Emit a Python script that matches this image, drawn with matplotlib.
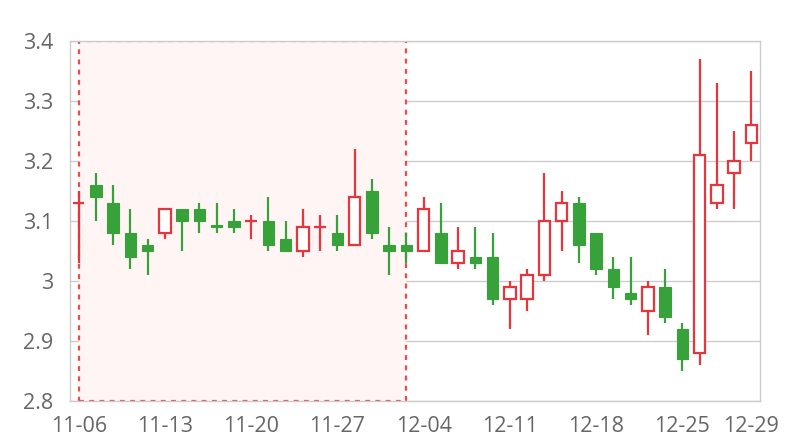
import matplotlib
matplotlib.use("Agg")
import matplotlib.pyplot as plt
from matplotlib.patches import Rectangle

# trading days (category axis)
dates = ["11-06", "11-07", "11-08", "11-09", "11-10",
         "11-13", "11-14", "11-15", "11-16", "11-17",
         "11-20", "11-21", "11-22", "11-23", "11-24",
         "11-27", "11-28", "11-29", "11-30", "12-01",
         "12-04", "12-05", "12-06", "12-07", "12-08",
         "12-11", "12-12", "12-13", "12-14", "12-15",
         "12-18", "12-19", "12-20", "12-21", "12-22",
         "12-25", "12-26", "12-27", "12-28", "12-29"]

opens = [3.13, 3.16, 3.13, 3.08, 3.06, 3.08, 3.12, 3.12, 3.093, 3.10,
         3.10, 3.10, 3.07, 3.05, 3.09, 3.08, 3.06, 3.15, 3.06, 3.06,
         3.05, 3.08, 3.03, 3.04, 3.04, 2.97, 2.97, 3.01, 3.10, 3.13,
         3.08, 3.02, 2.98, 2.95, 2.99, 2.92, 2.88, 3.13, 3.18, 3.23]
closes = [3.13, 3.14, 3.08, 3.04, 3.05, 3.12, 3.10, 3.10, 3.090, 3.09,
          3.10, 3.06, 3.05, 3.09, 3.09, 3.06, 3.14, 3.08, 3.05, 3.05,
          3.12, 3.03, 3.05, 3.03, 2.97, 2.99, 3.01, 3.10, 3.13, 3.06,
          3.02, 2.99, 2.97, 2.99, 2.94, 2.87, 3.21, 3.16, 3.20, 3.26]
highs = [3.15, 3.18, 3.16, 3.12, 3.07, 3.12, 3.12, 3.13, 3.13, 3.12,
         3.11, 3.14, 3.10, 3.12, 3.11, 3.11, 3.22, 3.17, 3.09, 3.08,
         3.14, 3.13, 3.09, 3.09, 3.08, 3.00, 3.02, 3.18, 3.15, 3.14,
         3.08, 3.04, 3.04, 3.00, 3.02, 2.93, 3.37, 3.33, 3.25, 3.35]
lows = [3.03, 3.10, 3.06, 3.02, 3.01, 3.07, 3.05, 3.08, 3.08, 3.08,
        3.07, 3.05, 3.05, 3.04, 3.05, 3.05, 3.06, 3.07, 3.01, 3.03,
        3.05, 3.03, 3.02, 3.02, 2.96, 2.92, 2.95, 3.00, 3.05, 3.03,
        3.01, 2.97, 2.96, 2.91, 2.93, 2.85, 2.86, 3.12, 3.12, 3.20]

label_idx = [0, 5, 10, 15, 20, 25, 30, 35, 39]
highlight = (0, 19)  # first and last index of the marked range

up_color = "#e8343b"
down_color = "#37a13a"
grid_color = "#cccccc"
text_color = "#666666"

plt.rcParams["font.family"] = ["Open Sans", "DejaVu Sans"]

fig = plt.figure(figsize=(8, 4.4), dpi=100)
ax = fig.add_axes([0.0875, 0.0886, 0.8625, 0.8182])

w = 0.68
for i in range(len(dates)):
    o, c, h, l = opens[i], closes[i], highs[i], lows[i]
    # equal open/close counts as a rising candle
    rising = c >= o
    col = up_color if rising else down_color
    ax.vlines(i, l, h, color=col, lw=1.6, zorder=2)
    bottom = min(o, c)
    height = max(abs(c - o), 0.0005)
    if rising:
        ax.bar(i, height, w, bottom=bottom, facecolor="white",
               edgecolor=col, lw=1.6, zorder=3)
    else:
        ax.bar(i, height, w, bottom=bottom, facecolor=col,
               edgecolor=col, lw=0.8, zorder=3)

ax.add_patch(Rectangle((highlight[0], 2.8), highlight[1] - highlight[0], 0.6,
                       facecolor="#fff5f5", edgecolor="#ee4b4b", lw=1.6,
                       ls=(0, (2.2, 2.4)), zorder=1))

ax.set_xlim(-0.5, 39.5)
ax.set_ylim(2.8, 3.4)
ax.set_yticks([2.8, 2.9, 3.0, 3.1, 3.2, 3.3, 3.4])
ax.set_yticklabels(["2.8", "2.9", "3", "3.1", "3.2", "3.3", "3.4"])
ax.set_xticks(label_idx)
ax.set_xticklabels([dates[i] for i in label_idx])
ax.tick_params(length=0, labelsize=15.5, colors=text_color, pad=12)
ax.tick_params(axis="x", pad=11)
ax.yaxis.grid(True, color=grid_color, lw=1, zorder=0)
ax.set_axisbelow(True)
for s in ax.spines.values():
    s.set_color(grid_color)
    s.set_linewidth(1)

fig.savefig("out.png", dpi=100)
